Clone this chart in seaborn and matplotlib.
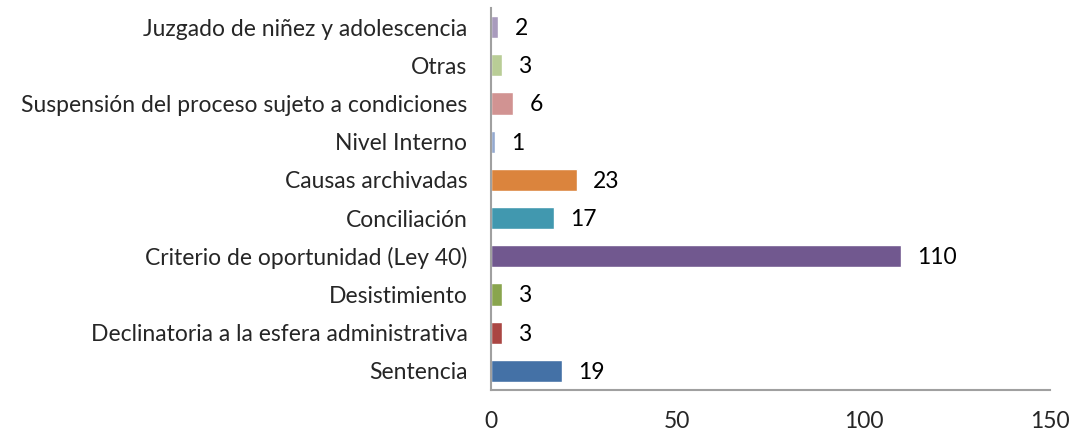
import matplotlib
matplotlib.use("Agg")
import matplotlib.pyplot as plt
import seaborn as sns
import pandas as pd

categories = [
    "Juzgado de niñez y adolescencia",
    "Otras",
    "Suspensión del proceso sujeto a condiciones",
    "Nivel Interno",
    "Causas archivadas",
    "Conciliación",
    "Criterio de oportunidad (Ley 40)",
    "Desistimiento",
    "Declinatoria a la esfera administrativa",
    "Sentencia",
]
values = [2, 3, 6, 1, 23, 17, 110, 3, 3, 19]
colors = ["#A99BBD", "#B9CD96", "#D19392", "#93A9CF", "#DB843D",
          "#4198AF", "#71588F", "#89A54E", "#AA4643", "#4471A6"]
x_ticks = [0, 50, 100, 150]

sns.set_theme(style="white")
plt.rcParams['font.family'] = ['Lato', 'DejaVu Sans']

df = pd.DataFrame({"cat": categories, "val": values})

fig = plt.figure(figsize=(10.75, 4.36), dpi=100)
ax = fig.add_axes([491/1075, 46/436, 559/1075, 382/436])
sns.barplot(data=df, y="cat", x="val", hue="cat", palette=colors,
            order=categories, hue_order=categories, dodge=False,
            width=0.58, legend=False, ax=ax, saturation=1)

for i, v in enumerate(values):
    ax.annotate(str(v), xy=(v, i), xytext=(11.5, -1), textcoords="offset points",
                va="center", ha="left", fontsize=16.5, color="black")

ax.set_xlim(0, 150)
ax.set_ylim(len(categories) - 0.5, -0.5)
ax.set_xticks(x_ticks)
ax.set_xticklabels([str(t) for t in x_ticks], fontsize=16.5)
ax.tick_params(axis='y', labelsize=16.5, length=0, pad=17)
ax.tick_params(axis='x', length=0, pad=15)
ax.set_xlabel("")
ax.set_ylabel("")
for s in ["top", "right"]:
    ax.spines[s].set_visible(False)
for s in ["left", "bottom"]:
    ax.spines[s].set_color("#A0A0A0")
    ax.spines[s].set_linewidth(1.5)

fig.savefig("out.png", dpi=100, facecolor="white")
